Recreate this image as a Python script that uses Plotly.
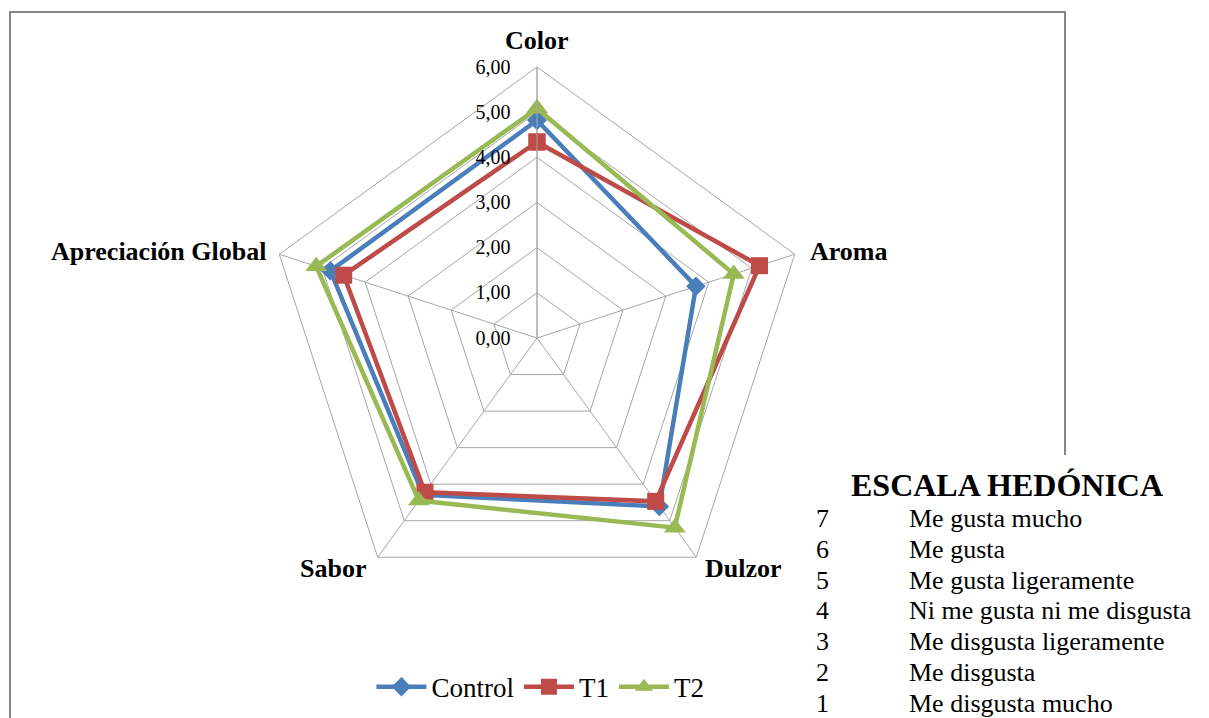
import math
import plotly.graph_objects as go

# Sensory attributes (angular categories) and mean hedonic scores per treatment
attributes = ["Color", "Aroma", "Dulzor", "Sabor", "Apreciación Global"]
control = [4.82, 3.70, 4.61, 4.29, 4.81]
t1 = [4.34, 5.18, 4.47, 4.22, 4.50]
t2 = [5.08, 4.58, 5.19, 4.45, 5.14]

radial_ticks = [0, 1, 2, 3, 4, 5, 6]

scale_title = "ESCALA HEDÓNICA"
scale_scores = ["7", "6", "5", "4", "3", "2", "1"]
scale_labels = [
    "Me gusta mucho",
    "Me gusta",
    "Me gusta ligeramente",
    "Ni me gusta ni me disgusta",
    "Me disgusta ligeramente",
    "Me disgusta",
    "Me disgusta mucho",
]

W, H = 1209, 718
SERIF = "Liberation Serif, Times New Roman, serif"

series = [
    ("Control", control, "#4A7EBB", "diamond", 15),
    ("T1", t1, "#BE4B48", "square", 17),
    ("T2", t2, "#98B954", "triangle-up", 19),
]

fig = go.Figure()
for name, vals, color, symbol, msize in series:
    fig.add_trace(
        go.Scatterpolar(
            r=vals + vals[:1],
            theta=attributes + attributes[:1],
            mode="lines+markers",
            name=name,
            line=dict(color=color, width=4.5),
            marker=dict(symbol=symbol, size=msize, color=color),
            cliponaxis=False,
        )
    )

# polar area: centre (537, 338) px, outer radius 271 px
cx, cy, rad = 537, 338, 271
dom_x = [(cx - rad) / W, (cx + rad) / W]
dom_y = [(H - cy - rad) / H, (H - cy + rad) / H]

grid_col = "#A6A6A6"

fig.update_layout(
    width=W,
    height=H,
    margin=dict(l=0, r=0, t=0, b=0),
    paper_bgcolor="white",
    plot_bgcolor="white",
    separators=",.",
    showlegend=True,
    legend=dict(
        orientation="h",
        x=0.447,
        y=0.043,
        xanchor="center",
        yanchor="middle",
        font=dict(family=SERIF, size=27, color="black"),
        itemwidth=50,
        bgcolor="rgba(0,0,0,0)",
    ),
    polar=dict(
        domain=dict(x=dom_x, y=dom_y),
        bgcolor="white",
        gridshape="linear",
        radialaxis=dict(
            range=[0, 6],
            tickvals=radial_ticks,
            tickformat=".2f",
            angle=90,
            side="counterclockwise",
            showline=True,
            linecolor=grid_col,
            linewidth=1,
            gridcolor=grid_col,
            gridwidth=1,
            ticks="outside",
            ticklen=19,
            tickcolor="rgba(0,0,0,0)",
            tickangle=90,
            tickfont=dict(family=SERIF, size=20, color="black"),
        ),
        angularaxis=dict(
            direction="clockwise",
            rotation=90,
            showline=True,
            linecolor=grid_col,
            linewidth=1,
            gridcolor=grid_col,
            gridwidth=1,
            ticks="",
            showticklabels=False,
        ),
    ),
)

# category labels placed just outside each spoke tip
label_offsets = [(0, -27, "center"), (13, -3, "left"), (7, 11, "left"),
                 (-10, 11, "right"), (-11, -3, "right")]
for i, name in enumerate(attributes):
    ang = math.radians(90 - 72 * i)
    tx = cx + rad * math.cos(ang)
    ty = cy - rad * math.sin(ang)
    dx, dy, anchor = label_offsets[i]
    fig.add_annotation(
        x=(tx + dx) / W, y=(H - (ty + dy)) / H, xref="paper", yref="paper",
        text="<b>%s</b>" % name, showarrow=False,
        xanchor=anchor, yanchor="middle",
        font=dict(family=SERIF, size=26, color="black"),
    )

# chart frame and the white text box that sits over its lower-right part
fig.add_shape(
    type="rect", xref="paper", yref="paper",
    x0=10 / W, x1=1065 / W, y0=-0.05, y1=1 - 12 / H,
    line=dict(color="#868686", width=2), fillcolor="rgba(0,0,0,0)",
    layer="below",
)
fig.add_shape(
    type="rect", xref="paper", yref="paper",
    x0=790 / W, x1=1.0, y0=-0.01, y1=(H - 455) / H,
    line=dict(width=0), fillcolor="white", layer="above",
)

fig.add_annotation(
    x=1007 / W, y=(H - 485) / H, xref="paper", yref="paper",
    text="<b>%s</b>" % scale_title, showarrow=False,
    xanchor="center", yanchor="middle",
    font=dict(family=SERIF, size=32, color="black"),
)
for i, (score, label) in enumerate(zip(scale_scores, scale_labels)):
    yy = 518.5 + i * 30.8
    fig.add_annotation(
        x=822 / W, y=(H - yy) / H, xref="paper", yref="paper",
        text=score, showarrow=False, xanchor="center", yanchor="middle",
        font=dict(family=SERIF, size=26, color="black"),
    )
    fig.add_annotation(
        x=907 / W, y=(H - yy) / H, xref="paper", yref="paper",
        text=label, showarrow=False, xanchor="left", yanchor="middle",
        font=dict(family=SERIF, size=26, color="black"),
    )

fig.write_html("out.html")
